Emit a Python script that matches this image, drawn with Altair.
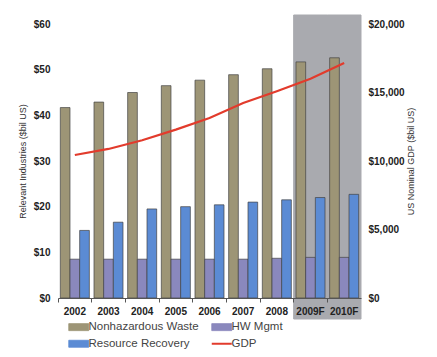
import altair as alt
import pandas as pd

years = ["2002", "2003", "2004", "2005", "2006", "2007", "2008", "2009F", "2010F"]
nonhaz = [41.7, 42.9, 45.0, 46.5, 47.7, 48.9, 50.2, 51.7, 52.6]
hw_mgmt = [8.5, 8.5, 8.5, 8.5, 8.5, 8.5, 8.7, 8.9, 8.9]
res_rec = [14.8, 16.6, 19.5, 20.0, 20.4, 21.0, 21.5, 22.0, 22.7]
gdp = [10440, 10880, 11510, 12290, 13140, 14230, 15090, 16010, 17150]
forecast_years = ["2009F", "2010F"]

bar_series = ["Nonhazardous Waste", "HW Mgmt", "Resource Recovery"]
# legend order (laid out column by column): Nonhaz / Resource Recovery, HW Mgmt / GDP
legend_order = ["Nonhazardous Waste", "Resource Recovery", "HW Mgmt", "GDP"]
colors = ["#9d9576", "#5b8bd4", "#8a88bd", "#e23b2c"]

rows = []
for i, y in enumerate(years):
    rows.append({"year": y, "series": bar_series[0], "value": nonhaz[i]})
    rows.append({"year": y, "series": bar_series[1], "value": hw_mgmt[i]})
    rows.append({"year": y, "series": bar_series[2], "value": res_rec[i]})
df_bars = pd.DataFrame(rows)
df_gdp = pd.DataFrame({"year": years, "gdp": gdp, "series": ["GDP"] * len(years)})
df_shade = pd.DataFrame({"year": forecast_years})

W, H = 303, 274
FONT = "Liberation Sans"
RECT = "M-1,-0.35H1V0.35H-1Z"

xenc = alt.X(
    "year:N",
    sort=years,
    scale=alt.Scale(paddingInner=0, paddingOuter=0),
    axis=alt.Axis(
        title=None, labelAngle=0, labelFont=FONT, labelFontWeight="bold",
        labelFontSize=10, labelColor="#222", domainColor="#555", tickColor="#555",
        tickSize=4, labelPadding=4, bandPosition=0, zindex=1,
    ),
)

color = alt.Color(
    "series:N",
    scale=alt.Scale(domain=legend_order, range=colors),
    legend=alt.Legend(
        orient="none", legendX=15, legendY=297, columns=2, title=None,
        labelFont=FONT, labelFontSize=11.5, labelColor="#444",
        symbolType=alt.ExprRef(expr="datum.value === 'GDP' ? 'stroke' : '" + RECT + "'"),
        symbolStrokeColor=alt.ExprRef(expr="datum.value === 'GDP' ? '#e23b2c' : '#444'"),
        symbolStrokeWidth=alt.ExprRef(expr="datum.value === 'GDP' ? 2 : 0.8"),
        symbolSize=400, symbolOpacity=1, columnPadding=8, rowPadding=4,
        padding=0, labelOffset=4,
    ),
)

shade = alt.Chart(df_shade).mark_rect(color="#a9aaaf", stroke="#a9aaaf", strokeWidth=1).encode(
    x=xenc, y=alt.value(-9), y2=alt.value(H + 21)
)

bars = alt.Chart(df_bars).mark_bar(stroke="#444", strokeWidth=0.7).encode(
    x=xenc,
    xOffset=alt.XOffset("series:N", sort=bar_series,
                        scale=alt.Scale(paddingInner=0, paddingOuter=0.24)),
    y=alt.Y(
        "value:Q",
        scale=alt.Scale(domain=[0, 60]),
        axis=alt.Axis(
            orient="left", values=[0, 10, 20, 30, 40, 50, 60], format="$,.0f",
            title="Relevant Industries ($bil US)", titleFont=FONT, titleFontSize=9,
            titleFontWeight="normal", titleColor="#333", titlePadding=6,
            labelFont=FONT, labelFontWeight="bold", labelFontSize=10, labelColor="#222",
            domain=False, ticks=False, grid=False, labelPadding=8,
        ),
    ),
    color=color,
)

line = alt.Chart(df_gdp).mark_line(strokeWidth=2.2).encode(
    x=xenc,
    y=alt.Y(
        "gdp:Q",
        scale=alt.Scale(domain=[0, 20000]),
        axis=alt.Axis(
            orient="right", values=[0, 5000, 10000, 15000, 20000], format="$,.0f",
            title="US Nominal GDP ($bil US)", titleFont=FONT, titleFontSize=9,
            titleFontWeight="normal", titleColor="#333", titlePadding=11, titleAngle=270,
            labelFont=FONT, labelFontWeight="bold", labelFontSize=10, labelColor="#222",
            domain=False, ticks=False, grid=False, labelPadding=7,
        ),
    ),
    color=color,
)

chart = (
    alt.layer(shade, bars, line)
    .resolve_scale(y="independent")
    .properties(width=W, height=H, padding={"left": 10, "top": 6, "right": 5, "bottom": 5},
                background="white")
    .configure_view(stroke=None)
)

chart.save("out.html", embed_options={"renderer": "svg", "actions": False})
